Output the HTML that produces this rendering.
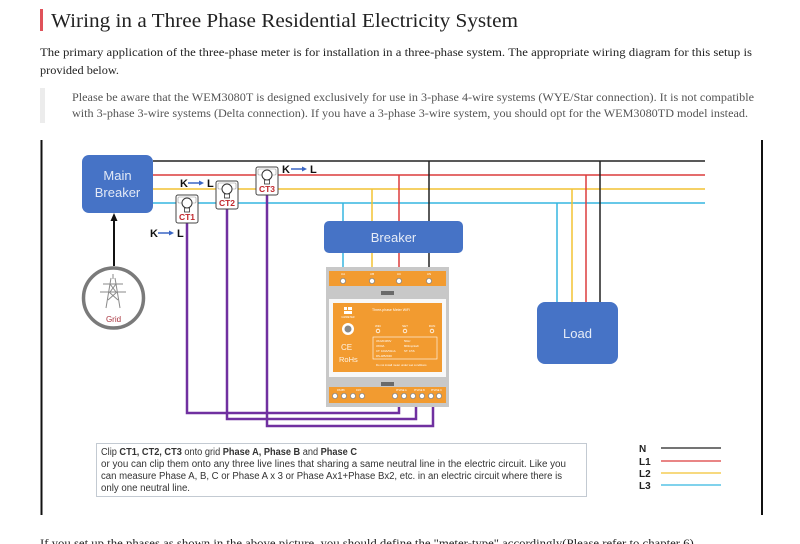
<!DOCTYPE html>
<html><head><meta charset="utf-8"><style>
html,body{margin:0;padding:0;background:#fff;overflow:hidden;}
svg{display:block;}
.serif{font-family:"Liberation Serif",serif;}
.sans{font-family:"Liberation Sans",sans-serif;}
</style></head><body>
<svg width="800" height="544" viewBox="0 0 800 544" xmlns="http://www.w3.org/2000/svg">
<rect width="800" height="544" fill="#fff"/>

<!-- Header -->
<rect x="40" y="9" width="3" height="22" fill="#e0525a"/>
<text x="51" y="27" class="serif" font-size="20" fill="#222" textLength="467" lengthAdjust="spacingAndGlyphs">Wiring in a Three Phase Residential Electricity System</text>
<text x="40" y="56" class="serif" font-size="12" fill="#222" textLength="712" lengthAdjust="spacingAndGlyphs">The primary application of the three-phase meter is for installation in a three-phase system. The appropriate wiring diagram for this setup is</text>
<text x="40" y="74" class="serif" font-size="12" fill="#222" textLength="79" lengthAdjust="spacingAndGlyphs">provided below.</text>
<rect x="40" y="88" width="5" height="35" fill="#ececec"/>
<text x="72" y="101" class="serif" font-size="12" fill="#555" textLength="682" lengthAdjust="spacingAndGlyphs">Please be aware that the WEM3080T is designed exclusively for use in 3-phase 4-wire systems (WYE/Star connection). It is not compatible</text>
<text x="72" y="117" class="serif" font-size="12" fill="#555" textLength="676" lengthAdjust="spacingAndGlyphs">with 3-phase 3-wire systems (Delta connection). If you have a 3-phase 3-wire system, you should opt for the WEM3080TD model instead.</text>

<!-- Diagram borders -->
<line x1="41.5" y1="140" x2="41.5" y2="515" stroke="#111" stroke-width="2"/>
<line x1="762" y1="140" x2="762" y2="515" stroke="#111" stroke-width="2"/>

<!-- Main bus lines -->
<line x1="153" y1="161" x2="705" y2="161" stroke="#222" stroke-width="1.5"/>
<line x1="153" y1="175" x2="705" y2="175" stroke="#dc3c3c" stroke-width="1.5"/>
<line x1="153" y1="189" x2="705" y2="189" stroke="#f2c233" stroke-width="1.5"/>
<line x1="153" y1="203" x2="705" y2="203" stroke="#35b6e0" stroke-width="1.5"/>

<!-- Drops to breaker -->
<line x1="343" y1="203" x2="343" y2="268" stroke="#35b6e0" stroke-width="1.5"/>
<line x1="372" y1="189" x2="372" y2="268" stroke="#f2c233" stroke-width="1.5"/>
<line x1="399" y1="175" x2="399" y2="268" stroke="#dc3c3c" stroke-width="1.5"/>
<line x1="429" y1="161" x2="429" y2="268" stroke="#222" stroke-width="1.5"/>

<!-- Drops to load -->
<line x1="557" y1="203" x2="557" y2="303" stroke="#35b6e0" stroke-width="1.5"/>
<line x1="572" y1="189" x2="572" y2="303" stroke="#f2c233" stroke-width="1.5"/>
<line x1="586" y1="175" x2="586" y2="303" stroke="#dc3c3c" stroke-width="1.5"/>
<line x1="600" y1="161" x2="600" y2="303" stroke="#222" stroke-width="1.5"/>

<!-- Main breaker -->
<rect x="82" y="155" width="71" height="58" rx="7" fill="#4673c6"/>
<text x="117.5" y="180" text-anchor="middle" class="sans" font-size="13" fill="#e3e9f6">Main</text>
<text x="117.5" y="197" text-anchor="middle" class="sans" font-size="13" fill="#e3e9f6">Breaker</text>

<!-- Grid arrow -->
<line x1="114" y1="266" x2="114" y2="219" stroke="#111" stroke-width="2"/>
<polygon points="114,213 110.5,221 117.5,221" fill="#111"/>

<!-- Grid circle -->
<circle cx="113.5" cy="298" r="30" fill="#fff" stroke="#7a7a7a" stroke-width="3.5"/>
<g stroke="#8a8a8a" stroke-width="1" fill="none">
  <line x1="113" y1="274" x2="113" y2="279"/>
  <line x1="111" y1="278" x2="106" y2="308"/>
  <line x1="115" y1="278" x2="120" y2="308"/>
  <line x1="103" y1="284" x2="123" y2="284"/>
  <line x1="100" y1="292" x2="126" y2="292"/>
  <line x1="110" y1="284" x2="116" y2="292"/>
  <line x1="116" y1="284" x2="110" y2="292"/>
  <line x1="109" y1="292" x2="118" y2="300"/>
  <line x1="117" y1="292" x2="108" y2="300"/>
</g>
<text x="113.5" y="322" text-anchor="middle" class="sans" font-size="8" fill="#a8343e">Grid</text>

<!-- Purple CT wires -->
<g stroke="#7030a0" stroke-width="2.5" fill="none">
  <polyline points="187,222 187,413 399,413 399,402"/>
  <polyline points="227,208 227,419 416,419 416,402"/>
  <polyline points="267,194 267,426 433,426 433,402"/>
</g>

<!-- CTs -->
<g class="sans">
  <g>
    <rect x="176" y="195" width="22" height="28" rx="2" fill="#fff" stroke="#444" stroke-width="1"/>
    <rect x="178" y="197" width="18" height="6" rx="1" fill="none" stroke="#999" stroke-width="0.6"/>
    <circle cx="187" cy="203" r="5" fill="#fff" stroke="#333" stroke-width="1"/>
    <rect x="184.5" y="208" width="5" height="4" fill="#fff" stroke="#333" stroke-width="0.8"/>
    <text x="187" y="220" text-anchor="middle" font-size="8.5" font-weight="bold" fill="#c0282d">CT1</text>
  </g>
  <g>
    <rect x="216" y="181" width="22" height="28" rx="2" fill="#fff" stroke="#444" stroke-width="1"/>
    <rect x="218" y="183" width="18" height="6" rx="1" fill="none" stroke="#999" stroke-width="0.6"/>
    <circle cx="227" cy="189" r="5" fill="#fff" stroke="#333" stroke-width="1"/>
    <rect x="224.5" y="194" width="5" height="4" fill="#fff" stroke="#333" stroke-width="0.8"/>
    <text x="227" y="206" text-anchor="middle" font-size="8.5" font-weight="bold" fill="#c0282d">CT2</text>
  </g>
  <g>
    <rect x="256" y="167" width="22" height="28" rx="2" fill="#fff" stroke="#444" stroke-width="1"/>
    <rect x="258" y="169" width="18" height="6" rx="1" fill="none" stroke="#999" stroke-width="0.6"/>
    <circle cx="267" cy="175" r="5" fill="#fff" stroke="#333" stroke-width="1"/>
    <rect x="264.5" y="180" width="5" height="4" fill="#fff" stroke="#333" stroke-width="0.8"/>
    <text x="267" y="192" text-anchor="middle" font-size="8.5" font-weight="bold" fill="#c0282d">CT3</text>
  </g>
</g>

<!-- K -> L labels -->
<g class="sans" font-size="11" font-weight="bold" fill="#111">
  <text x="180" y="187">K</text>
  <text x="207" y="187">L</text>
  <text x="282" y="173">K</text>
  <text x="310" y="173">L</text>
  <text x="150" y="237">K</text>
  <text x="177" y="237">L</text>
</g>
<g stroke="#3a66c4" stroke-width="1.5" fill="#3a66c4">
  <line x1="188" y1="183" x2="200" y2="183"/><polygon points="204,183 199,180.5 199,185.5" stroke="none"/>
  <line x1="291" y1="169" x2="303" y2="169"/><polygon points="307,169 302,166.5 302,171.5" stroke="none"/>
  <line x1="158" y1="233" x2="170" y2="233"/><polygon points="174,233 169,230.5 169,235.5" stroke="none"/>
</g>

<!-- Breaker -->
<rect x="324" y="221" width="139" height="32" rx="5" fill="#4673c6"/>
<text x="393.5" y="242" text-anchor="middle" class="sans" font-size="13" fill="#e6ecf7">Breaker</text>

<!-- Load -->
<rect x="537" y="302" width="81" height="62" rx="8" fill="#4673c6"/>
<text x="577.5" y="338" text-anchor="middle" class="sans" font-size="13" fill="#e6ecf7">Load</text>

<!-- Meter -->
<g class="sans">
  <rect x="326" y="267" width="123" height="140" fill="#c8c8c8"/>
  <rect x="329" y="271" width="117" height="15" fill="#f29b30"/>
  <g fill="#fff" font-size="3">
    <text x="343" y="275" text-anchor="middle">UA</text>
    <text x="372" y="275" text-anchor="middle">UB</text>
    <text x="399" y="275" text-anchor="middle">UC</text>
    <text x="429" y="275" text-anchor="middle">UN</text>
  </g>
  <g fill="#fff" stroke="#888" stroke-width="0.8">
    <circle cx="343" cy="281" r="2.6"/><circle cx="372" cy="281" r="2.6"/>
    <circle cx="399" cy="281" r="2.6"/><circle cx="429" cy="281" r="2.6"/>
  </g>
  <rect x="381" y="291" width="13" height="4" fill="#6a6a6a"/>
  <rect x="329" y="299" width="117" height="78" fill="#f8f8f8"/>
  <rect x="333" y="303" width="109" height="69" fill="#f29b30"/>
  <rect x="344" y="307" width="3" height="3" fill="#fff"/>
  <rect x="348" y="307" width="4" height="3" fill="#fff"/>
  <rect x="344" y="311" width="8" height="3" fill="#fff"/>
  <text x="348" y="318" text-anchor="middle" font-size="2.5" fill="#fff">IAMMETER</text>
  <circle cx="348" cy="329" r="6" fill="#fff"/>
  <circle cx="348" cy="329" r="3.5" fill="#888"/>
  <text x="341" y="350" font-size="8" fill="#fff5e6">CE</text>
  <text x="339" y="362" font-size="7.5" fill="#fff5e6">RoHs</text>
  <text x="372" y="311" font-size="3.5" fill="#fff">Three-phase Meter WiFi</text>
  <g font-size="3" fill="#fff">
    <text x="378" y="327" text-anchor="middle">WiFi</text>
    <text x="405" y="327" text-anchor="middle">SET</text>
    <text x="432" y="327" text-anchor="middle">RUN</text>
  </g>
  <g fill="none" stroke="#fff" stroke-width="0.8">
    <circle cx="378" cy="331" r="1.8"/><circle cx="405" cy="331" r="1.8"/><circle cx="432" cy="331" r="1.8"/>
  </g>
  <rect x="373" y="337" width="64" height="22" fill="none" stroke="#fff" stroke-width="0.6"/>
  <g font-size="2.8" fill="#fff">
    <text x="376" y="342">3X220/380V</text><text x="404" y="342">50Hz</text>
    <text x="376" y="347">3X60A</text><text x="404" y="347">800imp/kwh</text>
    <text x="376" y="352">CT: 100A/50mA</text><text x="404" y="352">ST: 0.5S</text>
    <text x="376" y="357">RS-485/WIFI</text>
  </g>
  <text x="376" y="366" font-size="2.8" fill="#fff">Do not install meter under wet conditions</text>
  <rect x="381" y="382" width="13" height="4" fill="#6a6a6a"/>
  <rect x="329" y="387" width="117" height="16" fill="#f29b30"/>
  <g fill="#fff" stroke="#888" stroke-width="0.8">
    <circle cx="335" cy="396" r="2.6"/><circle cx="344" cy="396" r="2.6"/>
    <circle cx="353" cy="396" r="2.6"/><circle cx="362" cy="396" r="2.6"/>
    <circle cx="395" cy="396" r="2.6"/><circle cx="404" cy="396" r="2.6"/>
    <circle cx="413" cy="396" r="2.6"/><circle cx="422" cy="396" r="2.6"/>
    <circle cx="431" cy="396" r="2.6"/><circle cx="439" cy="396" r="2.6"/>
  </g>
  <g font-size="2.5" fill="#fff">
    <text x="337" y="391">RS485</text><text x="356" y="391">DI/O</text>
    <text x="396" y="391">PHASE A</text><text x="414" y="391">PHASE B</text><text x="431" y="391">PHASE C</text>
  </g>
</g>

<!-- Note box -->
<rect x="96.5" y="443.5" width="490" height="53" fill="#fff" stroke="#c3cad2" stroke-width="1"/>
<g class="sans" font-size="10" fill="#333">
  <text x="101" y="455" textLength="256" lengthAdjust="spacingAndGlyphs">Clip <tspan font-weight="bold">CT1, CT2, CT3</tspan> onto grid <tspan font-weight="bold">Phase A, Phase B</tspan> and <tspan font-weight="bold">Phase C</tspan></text>
  <text x="101" y="467" textLength="465" lengthAdjust="spacingAndGlyphs">or you can clip them onto any three live lines that sharing a same neutral line in the electric circuit. Like you</text>
  <text x="101" y="479" textLength="461" lengthAdjust="spacingAndGlyphs">can measure Phase A, B, C or Phase A x 3 or Phase Ax1+Phase Bx2, etc. in an electric circuit where there is</text>
  <text x="101" y="491" textLength="89" lengthAdjust="spacingAndGlyphs">only one neutral line.</text>
</g>

<!-- Legend -->
<g class="sans" font-size="10" font-weight="bold" fill="#222">
  <text x="639" y="452">N</text>
  <text x="639" y="465">L1</text>
  <text x="639" y="477">L2</text>
  <text x="639" y="489">L3</text>
</g>
<line x1="661" y1="448" x2="721" y2="448" stroke="#222" stroke-width="1.3"/>
<line x1="661" y1="461" x2="721" y2="461" stroke="#dc3c3c" stroke-width="1.3"/>
<line x1="661" y1="473" x2="721" y2="473" stroke="#f2c233" stroke-width="1.3"/>
<line x1="661" y1="485" x2="721" y2="485" stroke="#35b6e0" stroke-width="1.3"/>

<!-- Bottom text (clipped) -->
<text x="40" y="547" class="serif" font-size="12" fill="#222" textLength="657" lengthAdjust="spacingAndGlyphs">If you set up the phases as shown in the above picture, you should define the "meter-type" accordingly(Please refer to chapter 6).</text>
</svg>
</body></html>
